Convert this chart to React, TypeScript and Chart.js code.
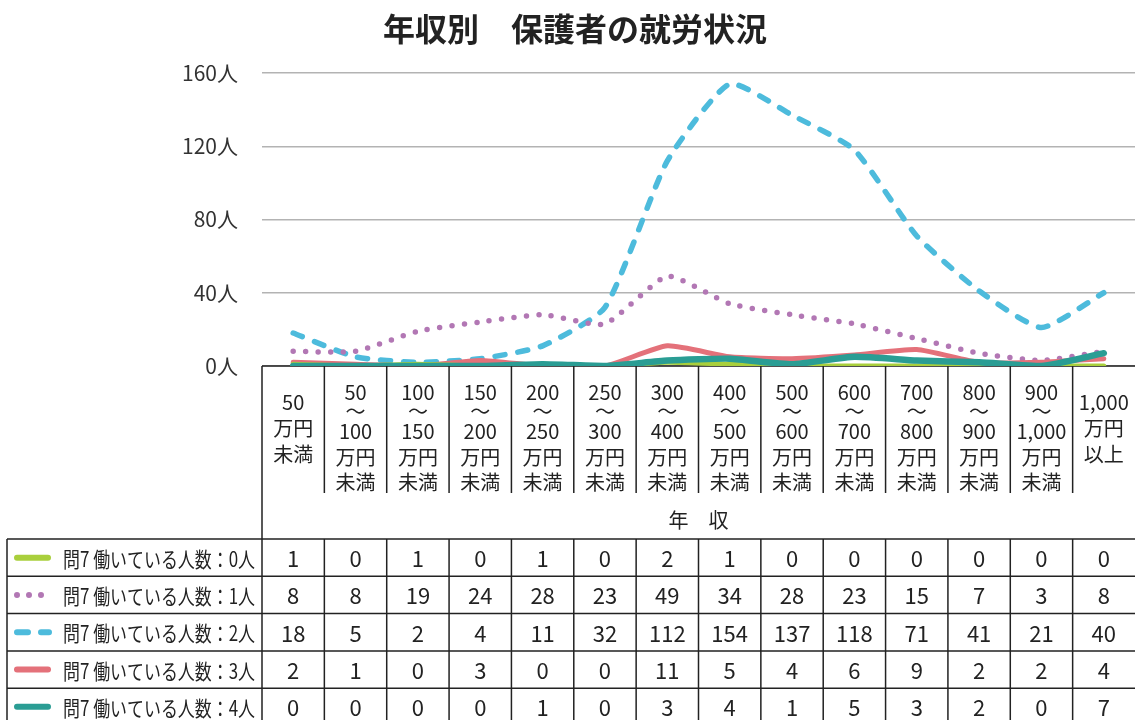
import { useEffect, useRef } from "react";
import { Chart, registerables } from "chart.js";

Chart.register(...registerables);

const chartTitle = "年収別　保護者の就労状況";
const axisTitle = "年　収";

const categories = [
  "50万円未満",
  "50～100万円未満",
  "100～150万円未満",
  "150～200万円未満",
  "200～250万円未満",
  "250～300万円未満",
  "300～400万円未満",
  "400～500万円未満",
  "500～600万円未満",
  "600～700万円未満",
  "700～800万円未満",
  "800～900万円未満",
  "900～1,000万円未満",
  "1,000万円以上",
];

const categoryLines: string[][] = [
  ["50", "万円", "未満"],
  ["50", "～", "100", "万円", "未満"],
  ["100", "～", "150", "万円", "未満"],
  ["150", "～", "200", "万円", "未満"],
  ["200", "～", "250", "万円", "未満"],
  ["250", "～", "300", "万円", "未満"],
  ["300", "～", "400", "万円", "未満"],
  ["400", "～", "500", "万円", "未満"],
  ["500", "～", "600", "万円", "未満"],
  ["600", "～", "700", "万円", "未満"],
  ["700", "～", "800", "万円", "未満"],
  ["800", "～", "900", "万円", "未満"],
  ["900", "～", "1,000", "万円", "未満"],
  ["1,000", "万円", "以上"],
];

const seriesNames = [
  "問7 働いている人数：0人",
  "問7 働いている人数：1人",
  "問7 働いている人数：2人",
  "問7 働いている人数：3人",
  "問7 働いている人数：4人",
];

const workers0 = [1, 0, 1, 0, 1, 0, 2, 1, 0, 0, 0, 0, 0, 0];
const workers1 = [8, 8, 19, 24, 28, 23, 49, 34, 28, 23, 15, 7, 3, 8];
const workers2 = [18, 5, 2, 4, 11, 32, 112, 154, 137, 118, 71, 41, 21, 40];
const workers3 = [2, 1, 0, 3, 0, 0, 11, 5, 4, 6, 9, 2, 2, 4];
const workers4 = [0, 0, 0, 0, 1, 0, 3, 4, 1, 5, 3, 2, 0, 7];

const yTicks = [0, 40, 80, 120, 160];
const yUnit = "人";

const FONT = "'Noto Sans CJK JP', 'Noto Sans', sans-serif";
const colors = ["#a9cf3c", "#b277b4", "#4dbbdc", "#e4717a", "#2a9d94"];
const styles = ["solid", "dot", "dash", "solid", "solid"];

const seriesData = [workers0, workers1, workers2, workers3, workers4];

const tablePlugin = {
  id: "tablePlugin",
  beforeDatasetsDraw(chart: any) {
    const { ctx, chartArea } = chart;
    ctx.save();
    ctx.strokeStyle = "#222";
    ctx.lineWidth = 1.5;
    ctx.beginPath();
    ctx.moveTo(chartArea.left, chartArea.bottom);
    ctx.lineTo(chartArea.right, chartArea.bottom);
    ctx.stroke();
    ctx.restore();
  },
  afterDraw(chart: any) {
    const { ctx, chartArea } = chart;
    const xs = chart.scales.x;
    const n = categories.length;
    const c0 = xs.getPixelForValue(0);
    const step = xs.getPixelForValue(1) - c0;
    const left = chartArea.left;
    const top = chartArea.bottom;
    const H = chart.height;
    ctx.save();

    // title
    ctx.fillStyle = "#222";
    ctx.font = `bold 32px ${FONT}`;
    ctx.textAlign = "center";
    ctx.textBaseline = "middle";
    ctx.fillText(chartTitle, 575, 29);

    // label area lines
    ctx.strokeStyle = "#222";
    ctx.lineWidth = 1.5;
    ctx.beginPath();
    ctx.moveTo(left, top);
    ctx.lineTo(left, H);
    for (let i = 1; i < n; i++) {
      const bx = left + i * step;
      ctx.moveTo(bx, top);
      ctx.lineTo(bx, 493);
    }
    ctx.stroke();

    // category labels
    ctx.fillStyle = "#222";
    ctx.font = `20px ${FONT}`;
    ctx.textAlign = "center";
    ctx.textBaseline = "middle";
    const off5 = [392, 411, 431, 457, 482];
    const off3 = [402, 428, 454];
    categoryLines.forEach((lines, i) => {
      const cx = xs.getPixelForValue(i);
      const ys = lines.length === 5 ? off5 : off3;
      lines.forEach((t, k) => {
        ctx.fillText(t, cx, ys[k], step - 6);
      });
    });

    // axis title
    ctx.font = `20px ${FONT}`;
    ctx.fillText(axisTitle, (chartArea.left + chartArea.right) / 2, 520);

    // data table
    const tTop = 539;
    const rowH = 37.3;
    const tLeft = 7;
    ctx.beginPath();
    for (let r = 0; r <= seriesNames.length; r++) {
      const y = tTop + r * rowH;
      ctx.moveTo(tLeft, y);
      ctx.lineTo(chartArea.right, y);
    }
    ctx.moveTo(tLeft, tTop);
    ctx.lineTo(tLeft, H);
    for (let i = 1; i < n; i++) {
      const bx = left + i * step;
      ctx.moveTo(bx, tTop);
      ctx.lineTo(bx, H);
    }
    ctx.stroke();

    seriesNames.forEach((name, r) => {
      const cy = tTop + r * rowH + rowH / 2;
      // legend sample
      ctx.save();
      ctx.strokeStyle = colors[r];
      ctx.lineWidth = 6;
      ctx.lineCap = "round";
      ctx.beginPath();
      if (styles[r] === "dot") {
        ctx.setLineDash([0, 12]);
        ctx.moveTo(17, cy);
        ctx.lineTo(45, cy);
      } else if (styles[r] === "dash") {
        ctx.moveTo(17, cy);
        ctx.lineTo(28, cy);
        ctx.moveTo(41, cy);
        ctx.lineTo(49, cy);
      } else {
        ctx.moveTo(17, cy);
        ctx.lineTo(48, cy);
      }
      ctx.stroke();
      ctx.restore();

      ctx.fillStyle = "#222";
      ctx.font = `21px ${FONT}`;
      ctx.textAlign = "left";
      ctx.textBaseline = "middle";
      ctx.fillText(name, 63, cy + 1, 192);

      ctx.font = `22px ${FONT}`;
      ctx.textAlign = "center";
      seriesData[r].forEach((v, i) => {
        ctx.fillText(String(v), xs.getPixelForValue(i), cy + 1, step - 4);
      });
    });

    ctx.restore();
  },
};

export default function App() {
  const ref = useRef<HTMLCanvasElement | null>(null);
  useEffect(() => {
    document.body.style.margin = "0";
    const canvas = ref.current;
    if (!canvas) return;
    const dash = (s: string) =>
      s === "dot" ? [0, 12.5] : s === "dash" ? [10, 13] : [];
    const widths = [5, 5.5, 5.5, 5, 6.5];
    const orders = [1, 3, 4, 2, 0];
    const chart = new Chart(canvas, {
      type: "line",
      data: {
        labels: categories,
        datasets: seriesNames.map((name, i) => ({
          label: name,
          data: seriesData[i],
          borderColor: colors[i],
          backgroundColor: colors[i],
          borderWidth: widths[i],
          borderDash: dash(styles[i]),
          borderCapStyle: "round",
          borderJoinStyle: "round",
          pointRadius: 0,
          tension: 0.18,
          order: orders[i],
          fill: false,
        })),
      },
      options: {
        responsive: false,
        animation: false,
        devicePixelRatio: 1,
        layout: { padding: { top: 73, bottom: 354, left: 0, right: 0 } },
        plugins: {
          legend: { display: false },
          tooltip: { enabled: false },
          title: { display: false },
        },
        scales: {
          x: {
            type: "category",
            display: false,
            offset: true,
          },
          y: {
            min: 0,
            max: 160,
            afterFit: (s: any) => {
              s.width = 262;
            },
            afterBuildTicks: (s: any) => {
              s.ticks = yTicks.map((v) => ({ value: v }));
            },
            border: { display: false },
            grid: {
              color: "#b3b3b3",
              lineWidth: 1.5,
              drawTicks: false,
            },
            ticks: {
              padding: 24,
              color: "#333",
              font: { family: FONT, size: 21 },
              callback: (v: any) => `${v}${yUnit}`,
            },
          },
        },
      },
      plugins: [tablePlugin],
    } as any);
    return () => chart.destroy();
  }, []);
  return (
    <canvas
      ref={ref}
      width={1135}
      height={720}
      style={{ display: "block", width: 1135, height: 720 }}
    />
  );
}
